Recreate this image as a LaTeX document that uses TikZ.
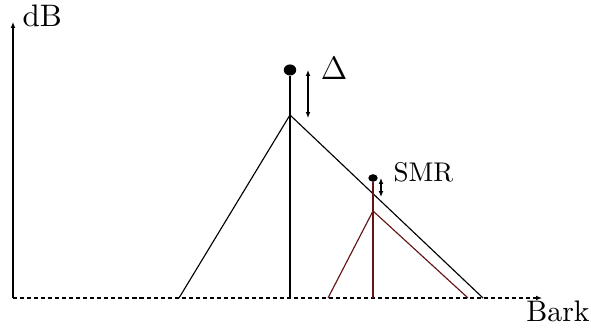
\documentclass[tikz,border=0pt]{standalone}
\usepackage{amsmath, amssymb}
\usepackage{xcolor}
\usetikzlibrary{calc, shapes.geometric, positioning, arrows.meta}

\definecolor{maskred}{RGB}{100,20,20}

\begin{document}
\begin{tikzpicture}[>={Latex[length=2.2pt, width=1.8pt]}, x=0.37pt, y=-0.37pt]
    \useasboundingbox (0,0) rectangle (591,329);
    \tikzset{
        tone/.style={ellipse, fill=black, inner sep=0pt, minimum width=4.6pt, minimum height=4.1pt},
        gap/.style={<->},
        axis/.style={line width=0.42pt},
    }
    % Axes
    \coordinate (O) at (13,298);
    \coordinate (Ytop) at (13,22);
    \coordinate (Xend) at (542,298);
    \draw[axis, ->] (O) -- (Ytop);
    \draw[axis, ->, dash pattern=on 1.5pt off 1.1pt] (O) -- (Xend);
    \node[anchor=base west, inner sep=0pt, scale=1.15] (dB) at (22,27) {dB};
    \node[anchor=base, inner sep=0pt, scale=1.1] (bark) at (558,322) {Bark};

    % Masker
    \coordinate (mL) at (179,298);
    \coordinate (mP) at (290,115);
    \coordinate (mR) at (483,298);
    \coordinate (mB) at (290,298);
    \node[tone] (mT) at (290,70) {};
    \draw[axis] (mL) -- (mP) -- (mR);
    \draw[axis] (mB) -- (mT);
    \coordinate (dA) at (308,70);
    \coordinate (dB2) at (308,118);
    \draw[axis, gap] (dA) -- (dB2);
    \node[font=\large, inner sep=0pt] (delta) at (334,68) {$\Delta$};

    % Masked signal
    \coordinate (sL) at (328,298);
    \coordinate (sP) at (373,211);
    \coordinate (sR) at (468,298);
    \coordinate (sB) at (373,298);
    \node[tone, minimum width=3.5pt, minimum height=2.8pt] (sT) at (373,178) {};
    \draw[axis, maskred] (sL) -- (sP) -- (sR);
    \draw[axis, maskred] (sB) -- (sT);
    \coordinate (eA) at (381,178);
    \coordinate (eB) at (381,197);
    \draw[axis, gap] (eA) -- (eB);
    \node[anchor=west, inner sep=0pt] (smr) at (393,172) {SMR};
\end{tikzpicture}
\end{document}
